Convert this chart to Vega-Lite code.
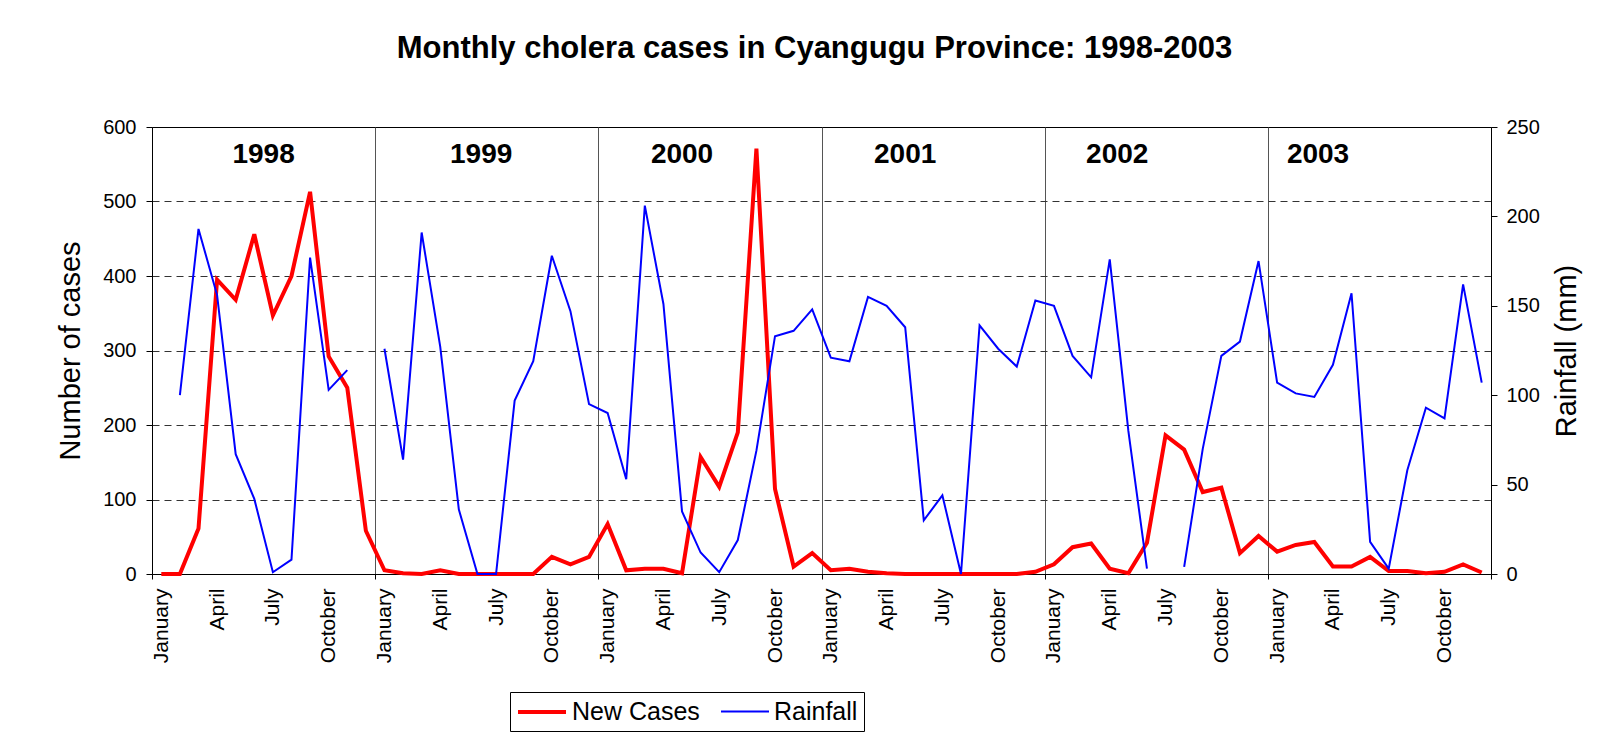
{
  "$schema": "https://vega.github.io/schema/vega-lite/v6.json",
  "width": 1339,
  "height": 447,
  "autosize": {"type": "none"},
  "padding": {"left": 152, "top": 127, "right": 121, "bottom": 162},
  "background": "white",
  "config": {
    "font": "Liberation Sans",
    "view": {"stroke": "black", "strokeWidth": 1},
    "axis": {
      "labelFont": "Liberation Sans",
      "titleFont": "Liberation Sans",
      "labelColor": "black",
      "titleColor": "black",
      "domainColor": "black",
      "tickColor": "black",
      "labelFontSize": 20,
      "titleFontSize": 29,
      "titleFontWeight": "normal"
    },
    "legend": {
      "title": null,
      "orient": "none",
      "legendX": 358,
      "legendY": 565,
      "direction": "horizontal",
      "symbolType": "M-1,0H3",
      "symbolSize": 576,
      "labelFont": "Liberation Sans",
      "labelFontSize": 25,
      "labelColor": "black",
      "labelOffset": 28,
      "columnPadding": 17,
      "padding": 6,
      "strokeColor": "black",
      "fillColor": "white"
    }
  },
  "title": {
    "text": "Monthly cholera cases in Cyangugu Province: 1998-2003",
    "font": "Liberation Sans",
    "fontSize": 31,
    "fontWeight": "bold",
    "color": "black",
    "anchor": "middle",
    "offset": 52,
    "dx": -7
  },
  "data": {
    "values": [
      {"m": 0, "year": 1998, "month": "January", "cases": 0, "rain": null},
      {"m": 1, "year": 1998, "month": "February", "cases": 0, "rain": 100},
      {"m": 2, "year": 1998, "month": "March", "cases": 61, "rain": 193},
      {"m": 3, "year": 1998, "month": "April", "cases": 395, "rain": 156},
      {"m": 4, "year": 1998, "month": "May", "cases": 368, "rain": 67},
      {"m": 5, "year": 1998, "month": "June", "cases": 456, "rain": 42},
      {"m": 6, "year": 1998, "month": "July", "cases": 347, "rain": 1},
      {"m": 7, "year": 1998, "month": "August", "cases": 400, "rain": 8},
      {"m": 8, "year": 1998, "month": "September", "cases": 513, "rain": 177},
      {"m": 9, "year": 1998, "month": "October", "cases": 292, "rain": 103},
      {"m": 10, "year": 1998, "month": "November", "cases": 250, "rain": 114},
      {"m": 11, "year": 1998, "month": "December", "cases": 58, "rain": null},
      {"m": 12, "year": 1999, "month": "January", "cases": 5, "rain": 126},
      {"m": 13, "year": 1999, "month": "February", "cases": 1, "rain": 64},
      {"m": 14, "year": 1999, "month": "March", "cases": 0, "rain": 191},
      {"m": 15, "year": 1999, "month": "April", "cases": 5, "rain": 127},
      {"m": 16, "year": 1999, "month": "May", "cases": 0, "rain": 36},
      {"m": 17, "year": 1999, "month": "June", "cases": 0, "rain": 0},
      {"m": 18, "year": 1999, "month": "July", "cases": 0, "rain": 0},
      {"m": 19, "year": 1999, "month": "August", "cases": 0, "rain": 97},
      {"m": 20, "year": 1999, "month": "September", "cases": 0, "rain": 119},
      {"m": 21, "year": 1999, "month": "October", "cases": 23, "rain": 178},
      {"m": 22, "year": 1999, "month": "November", "cases": 13, "rain": 147},
      {"m": 23, "year": 1999, "month": "December", "cases": 23, "rain": 95},
      {"m": 24, "year": 2000, "month": "January", "cases": 67, "rain": 90},
      {"m": 25, "year": 2000, "month": "February", "cases": 5, "rain": 53},
      {"m": 26, "year": 2000, "month": "March", "cases": 7, "rain": 206},
      {"m": 27, "year": 2000, "month": "April", "cases": 7, "rain": 151},
      {"m": 28, "year": 2000, "month": "May", "cases": 1, "rain": 35},
      {"m": 29, "year": 2000, "month": "June", "cases": 157, "rain": 12},
      {"m": 30, "year": 2000, "month": "July", "cases": 117, "rain": 1},
      {"m": 31, "year": 2000, "month": "August", "cases": 190, "rain": 19},
      {"m": 32, "year": 2000, "month": "September", "cases": 571, "rain": 69},
      {"m": 33, "year": 2000, "month": "October", "cases": 114, "rain": 133},
      {"m": 34, "year": 2000, "month": "November", "cases": 10, "rain": 136},
      {"m": 35, "year": 2000, "month": "December", "cases": 28, "rain": 148},
      {"m": 36, "year": 2001, "month": "January", "cases": 5, "rain": 121},
      {"m": 37, "year": 2001, "month": "February", "cases": 7, "rain": 119},
      {"m": 38, "year": 2001, "month": "March", "cases": 3, "rain": 155},
      {"m": 39, "year": 2001, "month": "April", "cases": 1, "rain": 150},
      {"m": 40, "year": 2001, "month": "May", "cases": 0, "rain": 138},
      {"m": 41, "year": 2001, "month": "June", "cases": 0, "rain": 30},
      {"m": 42, "year": 2001, "month": "July", "cases": 0, "rain": 44},
      {"m": 43, "year": 2001, "month": "August", "cases": 0, "rain": 0},
      {"m": 44, "year": 2001, "month": "September", "cases": 0, "rain": 139},
      {"m": 45, "year": 2001, "month": "October", "cases": 0, "rain": 126},
      {"m": 46, "year": 2001, "month": "November", "cases": 0, "rain": 116},
      {"m": 47, "year": 2001, "month": "December", "cases": 3, "rain": 153},
      {"m": 48, "year": 2002, "month": "January", "cases": 13, "rain": 150},
      {"m": 49, "year": 2002, "month": "February", "cases": 36, "rain": 122},
      {"m": 50, "year": 2002, "month": "March", "cases": 41, "rain": 110},
      {"m": 51, "year": 2002, "month": "April", "cases": 7, "rain": 176},
      {"m": 52, "year": 2002, "month": "May", "cases": 1, "rain": 80},
      {"m": 53, "year": 2002, "month": "June", "cases": 42, "rain": 3},
      {"m": 54, "year": 2002, "month": "July", "cases": 186, "rain": null},
      {"m": 55, "year": 2002, "month": "August", "cases": 167, "rain": 4},
      {"m": 56, "year": 2002, "month": "September", "cases": 110, "rain": 70},
      {"m": 57, "year": 2002, "month": "October", "cases": 116, "rain": 122},
      {"m": 58, "year": 2002, "month": "November", "cases": 28, "rain": 130},
      {"m": 59, "year": 2002, "month": "December", "cases": 51, "rain": 175},
      {"m": 60, "year": 2003, "month": "January", "cases": 30, "rain": 107},
      {"m": 61, "year": 2003, "month": "February", "cases": 39, "rain": 101},
      {"m": 62, "year": 2003, "month": "March", "cases": 43, "rain": 99},
      {"m": 63, "year": 2003, "month": "April", "cases": 10, "rain": 117},
      {"m": 64, "year": 2003, "month": "May", "cases": 10, "rain": 157},
      {"m": 65, "year": 2003, "month": "June", "cases": 23, "rain": 18},
      {"m": 66, "year": 2003, "month": "July", "cases": 4, "rain": 3},
      {"m": 67, "year": 2003, "month": "August", "cases": 4, "rain": 58},
      {"m": 68, "year": 2003, "month": "September", "cases": 1, "rain": 93},
      {"m": 69, "year": 2003, "month": "October", "cases": 3, "rain": 87},
      {"m": 70, "year": 2003, "month": "November", "cases": 13, "rain": 162},
      {"m": 71, "year": 2003, "month": "December", "cases": 2, "rain": 107}
    ]
  },
  "layer": [
    {
      "layer": [
        {
          "mark": {"type": "line"},
          "encoding": {
            "x": {
              "field": "m",
              "type": "quantitative",
              "title": null,
              "scale": {"domain": [-0.5, 71.5], "nice": false, "zero": false},
              "axis": {
                "title": null,
                "values": [-0.5, 0, 3, 6, 9, 11.5, 12, 15, 18, 21, 23.5, 24, 27, 30, 33, 35.5, 36, 39, 42, 45, 47.5, 48, 51, 54, 57, 59.5, 60, 63, 66, 69, 71.5],
                "labelExpr": "datum.value % 3 == 0 ? ['January','April','July','October'][(datum.value % 12) / 3] : ''",
                "labelAngle": -90,
                "labelAlign": "right",
                "labelBaseline": "middle",
                "labelFontSize": 21,
                "labelPadding": 9,
                "labelOverlap": false,
                "labelBound": false,
                "labelFlush": false,
                "tickSize": 5,
                "tickOpacity": {"condition": {"test": "datum.value % 3 != 0", "value": 1}, "value": 0},
                "grid": true,
                "gridColor": "#555555",
                "gridWidth": 1,
                "gridOpacity": {"condition": {"test": "datum.value % 3 != 0", "value": 1}, "value": 0}
              }
            },
            "y": {
              "field": "cases",
              "type": "quantitative",
              "title": "Number of cases",
              "scale": {"domain": [0, 600], "nice": false},
              "axis": {
                "title": "Number of cases",
                "orient": "left",
                "values": [0, 100, 200, 300, 400, 500, 600],
                "tickSize": 6,
                "labelPadding": 10,
                "titlePadding": 17,
                "grid": true,
                "gridDash": [7, 5],
                "gridColor": "#333333",
                "gridOpacity": {"condition": {"test": "datum.value == 0 || datum.value == 600", "value": 0}, "value": 1}
              }
            },
            "color": {
              "datum": "New Cases",
              "type": "nominal",
              "scale": {"domain": ["New Cases", "Rainfall"], "range": ["#ff0000", "#0000ff"]}
            },
            "strokeWidth": {
              "datum": "New Cases",
              "type": "ordinal",
              "scale": {"domain": ["New Cases", "Rainfall"], "range": [4, 2]}
            }
          }
        },
        {
          "data": {
            "values": [
              {"year": "1998", "pos": 5.5, "yv": 563},
              {"year": "1999", "pos": 17.2, "yv": 563},
              {"year": "2000", "pos": 28.0, "yv": 563},
              {"year": "2001", "pos": 40.0, "yv": 563},
              {"year": "2002", "pos": 51.4, "yv": 563},
              {"year": "2003", "pos": 62.2, "yv": 563}
            ]
          },
          "mark": {
            "type": "text",
            "font": "Liberation Sans",
            "fontSize": 28,
            "fontWeight": "bold",
            "color": "black",
            "align": "center",
            "baseline": "middle"
          },
          "encoding": {
            "x": {"field": "pos", "type": "quantitative", "title": null},
            "y": {"field": "yv", "type": "quantitative", "title": "Number of cases"},
            "text": {"field": "year", "type": "nominal"}
          }
        }
      ]
    },
    {
      "mark": {"type": "line", "invalid": "break-paths-show-domains"},
      "encoding": {
        "x": {"field": "m", "type": "quantitative", "title": null},
        "y": {
          "field": "rain",
          "type": "quantitative",
          "title": "Rainfall (mm)",
          "scale": {"domain": [0, 250], "nice": false},
          "axis": {
            "title": "Rainfall (mm)",
            "orient": "right",
            "values": [0, 50, 100, 150, 200, 250],
            "tickSize": 6,
            "labelPadding": 9,
            "titlePadding": 42,
            "titleAngle": 270,
            "grid": false
          }
        },
        "color": {"datum": "Rainfall", "type": "nominal"},
        "strokeWidth": {"datum": "Rainfall", "type": "ordinal"}
      }
    }
  ],
  "resolve": {"scale": {"y": "independent"}}
}
